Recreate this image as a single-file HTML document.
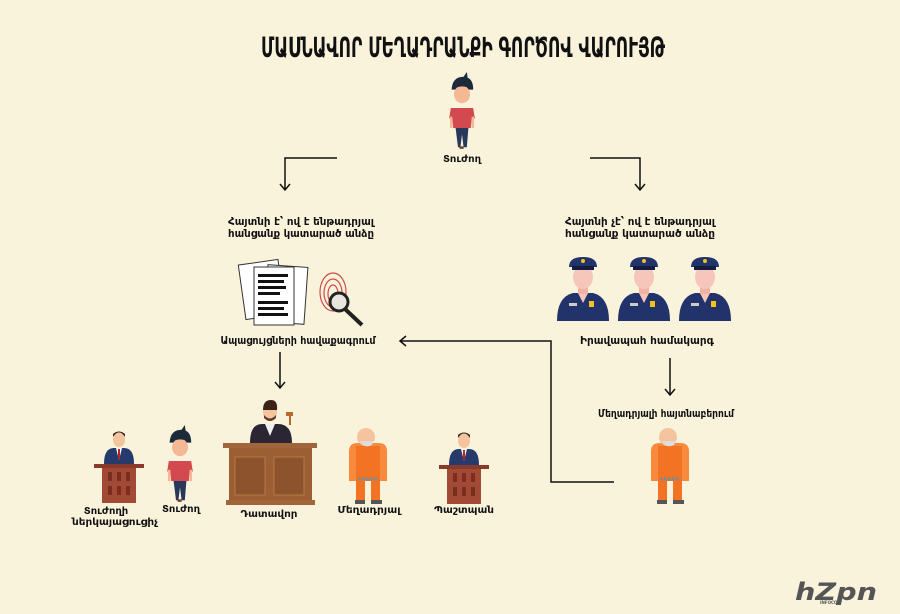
<!DOCTYPE html>
<html><head><meta charset="utf-8"><style>
html,body{margin:0;padding:0;background:#f9f3dc;}
svg{display:block}
text{font-family:"DejaVu Sans","Liberation Sans",sans-serif;font-weight:bold;fill:#111;}
</style></head><body>
<svg width="900" height="614" viewBox="0 0 900 614" xmlns="http://www.w3.org/2000/svg">
<defs>
<g id="victim">
  <path d="M-13,2 Q-12,-14 2,-14 L6,-20 L7,-13 Q14,-10 14,2 Z" fill="#1d2a3a"/>
  <ellipse cx="0" cy="8" rx="10" ry="11" fill="#f5b894"/>
  <path d="M-11,2 Q0,-6 12,2 L12,-4 Q0,-12 -11,-4Z" fill="#1d2a3a"/>
  <path d="M-14,25 L14,25 L16,38 L12,39 L11,50 L-11,50 L-12,39 L-16,38 Z" fill="#d24a4f"/>
  <rect x="-15" y="36" width="3" height="14" fill="#f5b894"/>
  <rect x="12" y="36" width="3" height="14" fill="#f5b894"/>
  <path d="M-8,50 L8,50 L6,74 L2,74 L0,58 L-2,74 L-5,74 Z" fill="#27385a"/>
  <rect x="-3" y="73" width="5" height="3" fill="#6b3b22"/>
</g>
<g id="cop">
  <path d="M-26,62 Q-26,38 -10,34 L10,34 Q26,38 26,62 Z" fill="#22336b"/>
  <path d="M-5,34 L0,44 L5,34Z" fill="#f6c6bb"/>
  <rect x="-5" y="26" width="10" height="9" fill="#f2b3a5"/>
  <ellipse cx="0" cy="18" rx="10" ry="12" fill="#f6c6bb"/>
  <path d="M-14,8 Q-14,-2 0,-2 Q14,-2 14,8 Z" fill="#22336b"/>
  <rect x="-11" y="7" width="22" height="4" fill="#121d40"/>
  <circle cx="0" cy="2" r="2" fill="#f3c21c"/>
  <rect x="6" y="42" width="5" height="6" fill="#f3c21c"/>
  <rect x="-14" y="44" width="8" height="3" fill="#ccc"/>
</g>
<g id="prisoner">
  <path d="M-19,8 Q-19,0 -10,0 L10,0 Q19,0 19,8 L19,38 L-19,38 Z" fill="#f78a3c"/>
  <rect x="-12" y="3" width="24" height="35" fill="#f27323"/>
  <circle cx="-2" cy="-6" r="9" fill="#f5c39e"/>
  <path d="M-8,-2 Q-4,6 4,2 L6,-2 Z" fill="#ddd"/>
  <path d="M-10,36 L10,36" stroke="#888" stroke-width="3" stroke-dasharray="3,1"/>
  <rect x="-12" y="38" width="9" height="20" fill="#f27323"/>
  <rect x="3" y="38" width="9" height="20" fill="#f27323"/>
  <rect x="-13" y="57" width="10" height="4" fill="#555"/>
  <rect x="3" y="57" width="11" height="4" fill="#555"/>
</g>
<g id="lawyer">
  <path d="M-15,28 Q-15,12 -5,12 L5,12 Q15,12 15,28 Z" fill="#263a6b"/>
  <path d="M-3,12 L0,24 L3,12Z" fill="#fff"/>
  <rect x="-1" y="13" width="2" height="10" fill="#b22"/>
  <ellipse cx="0" cy="4" rx="6" ry="7" fill="#f5c39e"/>
  <path d="M-6,1 Q0,-8 6,1 L6,-2 Q0,-7 -6,-2Z" fill="#3a2418"/>
  <rect x="-25" y="28" width="50" height="4" fill="#8a3a2a"/>
  <rect x="-17" y="32" width="34" height="35" fill="#a24a35"/>
  <rect x="-11" y="36" width="4" height="9" fill="#7a2e20"/><rect x="-2" y="36" width="4" height="9" fill="#7a2e20"/><rect x="7" y="36" width="4" height="9" fill="#7a2e20"/>
  <rect x="-11" y="50" width="4" height="9" fill="#7a2e20"/><rect x="-2" y="50" width="4" height="9" fill="#7a2e20"/><rect x="7" y="50" width="4" height="9" fill="#7a2e20"/>
</g>
</defs>

<text x="463" y="57" font-size="28" text-anchor="middle" textLength="404" lengthAdjust="spacingAndGlyphs">ՄԱՍՆԱՎՈՐ ՄԵՂԱԴՐԱՆՔԻ ԳՈՐԾՈՎ ՎԱՐՈՒՅԹ</text>

<use href="#victim" transform="translate(462,88) scale(0.8)"/>
<text x="462" y="162" font-size="10" text-anchor="middle">Տուժող</text>

<g fill="none" stroke="#111" stroke-width="1.5">
<path d="M337,158 H285 V190 M280,184 L285,190 L290,184"/>
<path d="M590,158 H640 V190 M635,184 L640,190 L645,184"/>
<path d="M614,482 H551 V341 H400 M406,336 L400,341 L406,346"/>
<path d="M280,352 V388 M275,382 L280,388 L285,382"/>
<path d="M670,358 V395 M665,389 L670,395 L675,389"/>
</g>

<text x="301" y="225" font-size="10.5" text-anchor="middle" textLength="146" lengthAdjust="spacingAndGlyphs">Հայտնի է՝ ով է ենթադրյալ</text>
<text x="301" y="237" font-size="10.5" text-anchor="middle" textLength="146" lengthAdjust="spacingAndGlyphs">հանցանք կատարած անձը</text>
<text x="640" y="225" font-size="10.5" text-anchor="middle" textLength="150" lengthAdjust="spacingAndGlyphs">Հայտնի չէ՝ ով է ենթադրյալ</text>
<text x="640" y="237" font-size="10.5" text-anchor="middle" textLength="150" lengthAdjust="spacingAndGlyphs">հանցանք կատարած անձը</text>

<!-- documents -->
<g stroke="#333" stroke-width="1">
<rect x="242" y="262" width="40" height="55" fill="#fff" transform="rotate(-8 262 290)"/>
<rect x="266" y="266" width="40" height="57" fill="#fff" transform="rotate(4 286 294)"/>
<rect x="254" y="267" width="40" height="58" fill="#fff"/>
</g>
<g fill="#111">
<rect x="258" y="274" width="30" height="3"/><rect x="258" y="280" width="26" height="3"/><rect x="258" y="286" width="28" height="3"/><rect x="258" y="292" width="22" height="3"/>
<rect x="258" y="301" width="30" height="3"/><rect x="258" y="307" width="26" height="3"/><rect x="258" y="313" width="30" height="3"/>
</g>
<g fill="none" stroke="#d04a4a" stroke-width="1.2">
<ellipse cx="333" cy="292" rx="13" ry="19"/><ellipse cx="333" cy="293" rx="9" ry="14"/><ellipse cx="333" cy="294" rx="5" ry="9"/>
</g>
<circle cx="339" cy="302" r="9" fill="#e8e6dd" stroke="#222" stroke-width="3"/>
<path d="M345,309 L362,325" stroke="#222" stroke-width="4"/>

<use href="#cop" x="583" y="259"/>
<use href="#cop" x="644" y="259"/>
<use href="#cop" x="705" y="259"/>

<text x="298" y="344" font-size="11" text-anchor="middle" textLength="155" lengthAdjust="spacingAndGlyphs">Ապացույցների հավաքագրում</text>
<text x="647" y="344" font-size="11" text-anchor="middle" textLength="134" lengthAdjust="spacingAndGlyphs">Իրավապահ համակարգ</text>
<text x="666" y="417" font-size="11" text-anchor="middle" textLength="136" lengthAdjust="spacingAndGlyphs">Մեղադրյալի հայտնաբերում</text>

<use href="#prisoner" x="670" y="443"/>
<use href="#prisoner" x="368" y="443"/>
<use href="#lawyer" x="119" y="436"/>
<use href="#lawyer" x="464" y="437"/>
<use href="#victim" transform="translate(180,441) scale(0.8)"/>

<!-- judge -->
<path d="M250,443 Q250,424 262,424 L278,424 Q292,424 292,443 Z" fill="#2a2634"/>
<path d="M265,424 L270,436 L275,424Z" fill="#eee"/>
<ellipse cx="270" cy="412" rx="7" ry="9" fill="#f5c39e"/>
<path d="M263,410 Q263,400 271,400 Q278,400 277,410 Z" fill="#3a2418"/>
<path d="M264,415 Q270,422 276,415 L276,418 Q270,424 264,418Z" fill="#5a3a26"/>
<rect x="286" y="412" width="7" height="4" fill="#b86a2a"/><rect x="289" y="415" width="2" height="10" fill="#b86a2a"/>
<rect x="223" y="443" width="94" height="5" fill="#a0653a"/>
<rect x="229" y="448" width="83" height="53" fill="#9c5f34"/>
<rect x="235" y="457" width="30" height="38" fill="#8c532c" stroke="#b47a48"/>
<rect x="274" y="457" width="30" height="38" fill="#8c532c" stroke="#b47a48"/>
<rect x="226" y="500" width="89" height="5" fill="#a0653a"/>

<text x="106" y="514" font-size="10" text-anchor="middle">Տուժողի</text>
<text x="115" y="525" font-size="10" text-anchor="middle" textLength="86" lengthAdjust="spacingAndGlyphs">ներկայացուցիչ</text>
<text x="181" y="512" font-size="10" text-anchor="middle">Տուժող</text>
<text x="269" y="517" font-size="10" text-anchor="middle" textLength="57" lengthAdjust="spacingAndGlyphs">Դատավոր</text>
<text x="369" y="513" font-size="10" text-anchor="middle" textLength="63" lengthAdjust="spacingAndGlyphs">Մեղադրյալ</text>
<text x="464" y="513" font-size="10" text-anchor="middle" textLength="60" lengthAdjust="spacingAndGlyphs">Պաշտպան</text>

<text x="836" y="600" font-size="24" text-anchor="middle" style="fill:#555;font-style:italic" textLength="82" lengthAdjust="spacingAndGlyphs">hZpn</text>
<text x="820" y="604" font-size="4" style="fill:#555">INFOCOM</text>
</svg>
</body></html>
